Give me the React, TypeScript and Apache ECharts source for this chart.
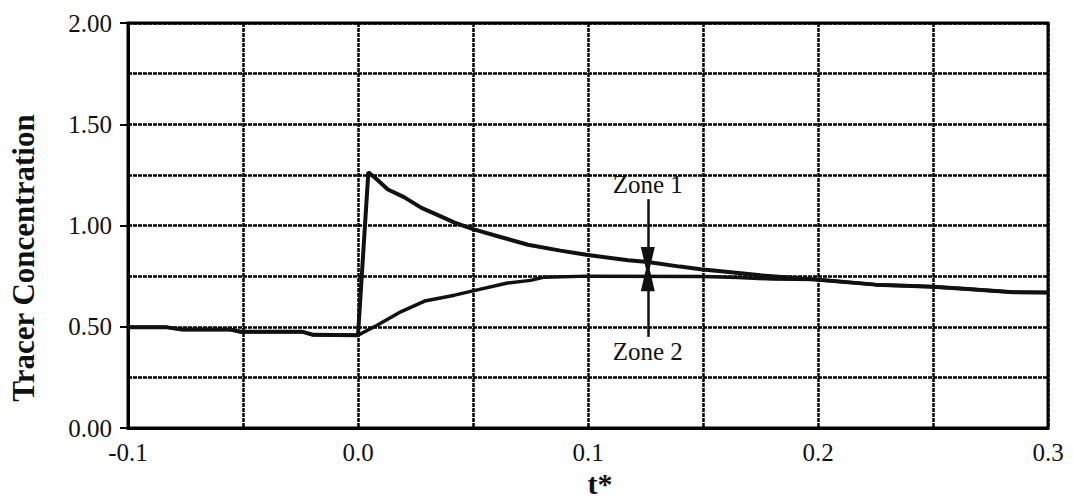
import React, { useEffect, useRef } from "react";
import * as echarts from "echarts";

// ---- data ----
const xLabelValues = [-0.1, 0.0, 0.1, 0.2, 0.3];
const yLabelValues = [0.0, 0.5, 1.0, 1.5, 2.0];

const zone1: [number, number][] = [
  [-0.1, 0.497], [-0.083, 0.497], [-0.077, 0.487], [-0.056, 0.487], [-0.051, 0.475],
  [-0.024, 0.475], [-0.0195, 0.46], [0.0, 0.458], [0.0045, 1.263], [0.008, 1.23],
  [0.013, 1.178], [0.02, 1.14], [0.0276, 1.087], [0.035, 1.05], [0.042, 1.014],
  [0.05, 0.982], [0.0623, 0.942], [0.0739, 0.905], [0.088, 0.876], [0.1, 0.854],
  [0.1175, 0.828], [0.126, 0.82], [0.14, 0.797], [0.149, 0.784], [0.16, 0.772],
  [0.175, 0.754], [0.199, 0.733], [0.225, 0.708], [0.25, 0.697], [0.265, 0.687],
  [0.285, 0.67], [0.3, 0.669],
];

const zone2: [number, number][] = [
  [-0.1, 0.497], [-0.083, 0.497], [-0.077, 0.487], [-0.056, 0.487], [-0.051, 0.475],
  [-0.024, 0.475], [-0.0195, 0.46], [0.0, 0.458], [0.0087, 0.51], [0.0188, 0.575],
  [0.029, 0.627], [0.042, 0.656], [0.05, 0.677], [0.065, 0.716], [0.075, 0.729],
  [0.081, 0.745], [0.1, 0.75], [0.15, 0.748], [0.165, 0.743], [0.18, 0.736],
  [0.199, 0.733], [0.225, 0.708], [0.25, 0.697], [0.265, 0.687], [0.285, 0.67],
  [0.3, 0.669],
];

const annotationNames = ["Zone 1", "Zone 2"];
const annotationT = [0.126, 0.126];
const annotationFrom = [1.13, 0.45];
const annotationTo = [0.82, 0.75];

const yTitle = "Tracer Concentration";
const xTitle = "t*";

const FONT = "Liberation Serif";
const INK = "#111";

const gridLine = { color: "#000", width: 2.5, type: [4, 1] as number[] };

export default function App() {
  const ref = useRef<HTMLDivElement>(null);

  useEffect(() => {
    if (!ref.current) return;
    const chart = echarts.init(ref.current, undefined, { renderer: "svg" });

    const fmtX = (v: number) => {
      const hit = xLabelValues.find((x) => Math.abs(x - v) < 1e-9);
      if (hit === undefined) return "";
      return Math.abs(hit) < 1e-9 ? "0.0" : hit.toFixed(1);
    };
    const fmtY = (v: number) => {
      const hit = yLabelValues.find((y) => Math.abs(y - v) < 1e-9);
      return hit === undefined ? "" : hit.toFixed(2);
    };

    const arrowData = annotationNames.map((name, i) => [
      {
        coord: [annotationT[i], annotationFrom[i]],
        label: { formatter: name },
      },
      { coord: [annotationT[i], annotationTo[i]] },
    ]);

    chart.setOption({
      animation: false,
      backgroundColor: "#fff",
      textStyle: { fontFamily: FONT },
      grid: {
        left: 128,
        right: 25,
        top: 23,
        bottom: 72,
        show: true,
        borderColor: "#000",
        borderWidth: 3,
        backgroundColor: "transparent",
      },
      xAxis: {
        type: "value",
        min: -0.1,
        max: 0.3,
        interval: 0.1,
        axisLine: { show: true, onZero: false, lineStyle: { color: "#000", width: 3 } },
        axisTick: { show: false },
        axisLabel: {
          formatter: fmtX,
          fontFamily: FONT,
          fontSize: 25,
          color: INK,
          margin: 12,
        },
        splitLine: { show: true, lineStyle: gridLine },
        minorTick: { show: false, splitNumber: 2 },
        minorSplitLine: { show: true, lineStyle: gridLine },
      },
      yAxis: {
        type: "value",
        min: 0,
        max: 2,
        interval: 0.5,
        axisLine: { show: true, onZero: false, lineStyle: { color: "#000", width: 3 } },
        axisTick: { show: true, length: 8, lineStyle: { color: "#000", width: 2 } },
        axisLabel: {
          formatter: fmtY,
          fontFamily: FONT,
          fontSize: 25,
          color: INK,
          margin: 16,
        },
        splitLine: { show: true, lineStyle: gridLine },
        minorTick: { show: false, splitNumber: 2 },
        minorSplitLine: { show: true, lineStyle: gridLine },
      },
      graphic: [
        {
          type: "text",
          x: 23,
          y: 258,
          rotation: Math.PI / 2,
          style: {
            text: yTitle,
            fontFamily: FONT,
            fontWeight: "bold",
            fontSize: 31,
            fill: INK,
            align: "center",
            verticalAlign: "middle",
          },
        },
        {
          type: "text",
          x: 600,
          y: 483,
          style: {
            text: xTitle,
            fontFamily: FONT,
            fontWeight: "bold",
            fontSize: 30,
            fill: INK,
            align: "center",
            verticalAlign: "middle",
          },
        },
      ],
      series: [
        {
          name: "Zone 1",
          type: "line",
          data: zone1,
          showSymbol: false,
          symbol: "none",
          lineStyle: { color: INK, width: 4 },
          z: 5,
          markLine: {
            silent: true,
            symbol: ["none", "triangle"],
            symbolSize: [14, 30],
            lineStyle: { color: INK, width: 2.5, type: "solid" },
            label: {
              show: true,
              position: "start",
              distance: 2,
              fontFamily: FONT,
              fontSize: 25,
              color: INK,
            },
            data: arrowData,
          },
        },
        {
          name: "Zone 2",
          type: "line",
          data: zone2,
          showSymbol: false,
          symbol: "none",
          lineStyle: { color: INK, width: 3.5 },
          z: 4,
        },
      ],
    });

    return () => chart.dispose();
  }, []);

  return (
    <div
      ref={ref}
      style={{ position: "fixed", left: 0, top: 0, width: 1073, height: 500, background: "#fff" }}
    />
  );
}
